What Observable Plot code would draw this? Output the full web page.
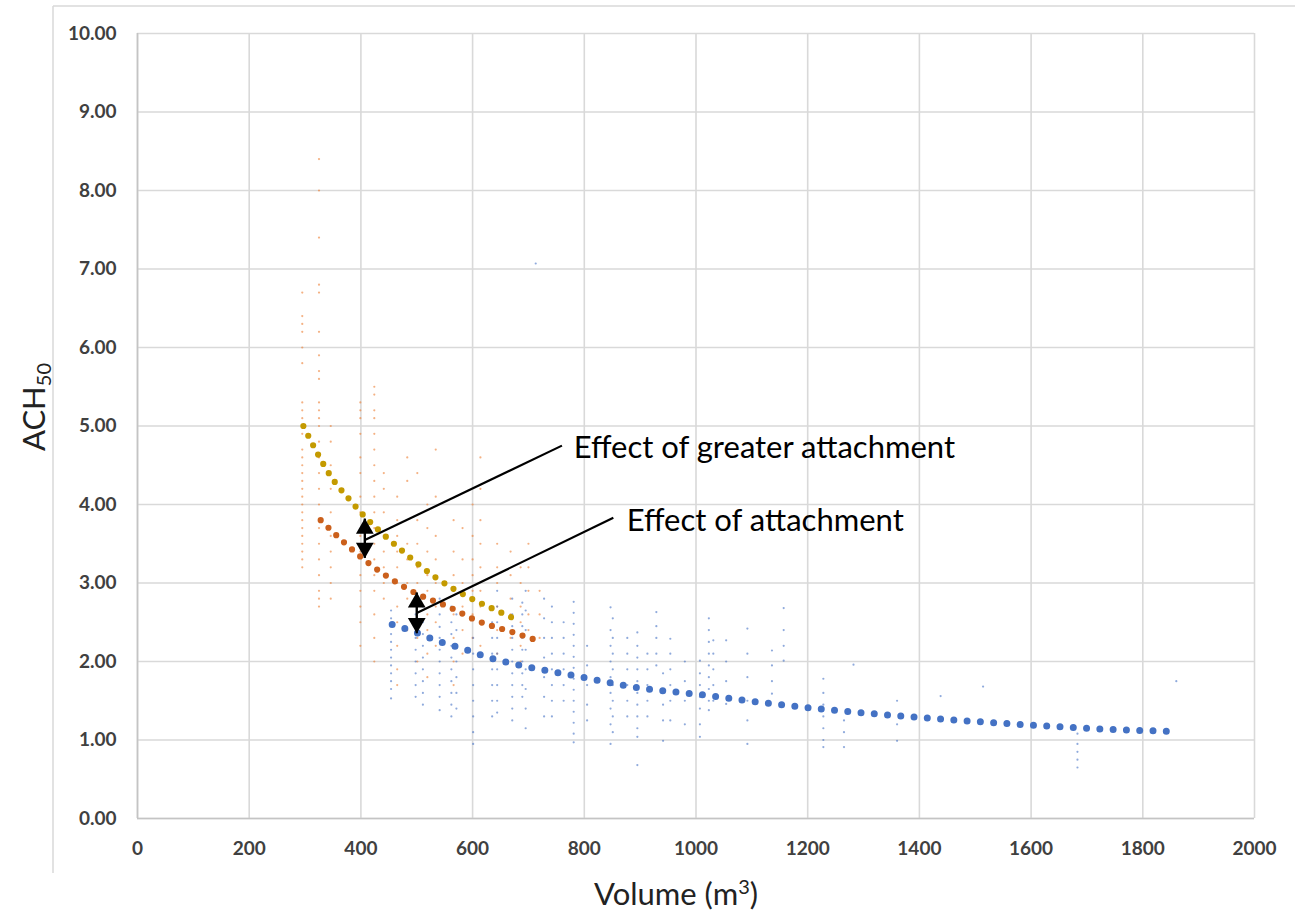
<!DOCTYPE html>
<html>
<head>
<meta charset="utf-8">
<script src="https://cdn.jsdelivr.net/npm/d3@7"></script>
<script src="https://cdn.jsdelivr.net/npm/@observablehq/plot@0.6"></script>
<style>
  html, body { margin: 0; padding: 0; background: #fff; }
  #chart svg { display: block; }
  #chart g[aria-label="x-axis tick label"] text,
  #chart g[aria-label="y-axis tick label"] text { font-weight: 700; }
</style>
</head>
<body>
<div id="chart"></div>
<script>
// ---- Axis ticks ----
const xTicks = [0, 200, 400, 600, 800, 1000, 1200, 1400, 1600, 1800, 2000];
const yTicks = [0, 1, 2, 3, 4, 5, 6, 7, 8, 9, 10];

// ---- Trend curves ----
const goldX = [297, 320, 345, 380, 405, 440, 474, 534, 598, 640, 670];
const goldY = [5.00, 4.68, 4.37, 4.06, 3.86, 3.62, 3.41, 3.07, 2.80, 2.66, 2.56];

const orangeX = [328, 371, 416, 450, 501, 556, 608, 673, 711];
const orangeY = [3.80, 3.51, 3.24, 3.07, 2.86, 2.70, 2.52, 2.37, 2.28];

const blueX = [456, 499, 538, 584, 629, 693, 782, 898, 1018, 1114, 1231, 1378, 1578, 1728, 1854];
const blueY = [2.47, 2.37, 2.26, 2.16, 2.05, 1.94, 1.82, 1.665, 1.57, 1.48, 1.39, 1.30, 1.20, 1.14, 1.11];

// ---- Measured points (columns: volume, ACH50 values) ----
const orangeCols = [
  [295, [6.7, 6.4, 6.3, 6.2, 6.0, 5.8, 5.3, 5.2, 5.1, 5.0, 4.9, 4.7, 4.6, 4.5, 4.4, 4.3, 4.2, 4.1, 4.0, 3.9, 3.8, 3.7, 3.6, 3.5, 3.4, 3.3, 3.2]],
  [325, [8.4, 8.0, 7.4, 6.8, 6.7, 6.2, 5.9, 5.7, 5.6, 5.3, 5.2, 5.1, 5.0, 4.8, 4.6, 4.4, 4.2, 4.0, 3.7, 3.5, 3.3, 3.1, 2.9, 2.8, 2.7]],
  [346, [5.0, 4.8, 4.5, 4.2, 3.9, 3.6, 3.4, 3.2, 3.0, 2.8]],
  [399, [5.3, 5.2, 5.1, 4.9, 4.6, 4.4, 4.1, 3.9, 3.6, 3.4, 3.1, 2.9, 2.7, 2.5, 2.2]],
  [424, [5.5, 5.4, 5.2, 5.1, 4.9, 4.7, 4.5, 4.3, 4.1, 3.9, 3.7, 3.5, 3.3, 3.1, 2.9, 2.6, 2.3, 2.0]],
  [441, [4.4, 4.2, 3.9, 3.6, 3.4, 3.2, 3.0, 2.8]],
  [465, [4.1, 3.8, 3.6, 3.4, 3.2, 3.0, 2.7, 2.5, 2.2, 1.9, 1.7]],
  [483, [4.6, 4.3, 3.5, 3.3, 3.0, 2.8, 2.4]],
  [501, [4.4, 3.8, 3.5, 3.2, 3.0, 2.7, 2.5, 2.3, 2.0]],
  [519, [4.0, 3.7, 3.4, 3.1, 2.9, 2.6, 2.4, 2.1, 1.8]],
  [534, [4.7, 4.1, 3.6, 3.3, 3.0, 2.7, 2.5, 2.2]],
  [566, [3.8, 3.4, 3.1, 2.9, 2.6, 2.3, 2.0, 1.7]],
  [582, [3.7, 3.3, 3.0, 2.7, 2.4, 2.1]],
  [600, [4.0, 3.6, 3.3, 3.1, 2.9, 2.6, 2.3]],
  [614, [4.6, 4.2, 3.8, 3.5, 3.2, 2.9, 2.7, 2.5, 2.2]],
  [644, [3.5, 3.2, 3.0, 2.7, 2.4, 2.1]],
  [668, [3.4, 3.1, 2.8, 2.6, 2.3]],
  [686, [3.2, 3.0, 2.7, 2.5, 2.2, 2.0]],
  [700, [3.5, 3.2, 2.9, 2.6, 2.4]],
  [720, [2.9, 2.6, 2.3]]
];

const blueCols = [
  [454, [2.65, 2.55, 2.45, 2.35, 2.25, 2.15, 2.05, 1.95, 1.85, 1.75, 1.65, 1.53]],
  [498, [2.6, 2.45, 2.3, 2.15, 2.0, 1.85, 1.7, 1.55]],
  [511, [2.7, 2.5, 2.35, 2.2, 2.05, 1.9, 1.75, 1.6, 1.45]],
  [541, [2.8, 2.6, 2.44, 2.3, 2.15, 2.0, 1.85, 1.7, 1.55, 1.38]],
  [562, [2.7, 2.5, 2.35, 2.2, 2.05, 1.9, 1.75, 1.6, 1.45, 1.3]],
  [571, [2.6, 2.4, 2.2, 2.0, 1.8, 1.6, 1.4]],
  [601, [2.3, 2.1, 1.9, 1.7, 1.5, 1.3, 1.1, 0.95]],
  [635, [2.5, 2.3, 2.1, 1.9, 1.7, 1.5, 1.3]],
  [644, [2.9, 2.7, 2.5, 2.3, 2.1, 1.9, 1.7, 1.5, 1.35]],
  [671, [2.8, 2.6, 2.45, 2.3, 2.15, 2.0, 1.85, 1.7, 1.55, 1.4, 1.25]],
  [689, [2.75, 2.6, 2.45, 2.3, 2.15, 2.0, 1.85, 1.7, 1.55]],
  [695, [2.9, 2.65, 2.4, 2.15, 1.9, 1.65, 1.4, 1.15]],
  [713, [7.07]],
  [728, [2.8, 2.55, 2.3, 2.05, 1.8, 1.55, 1.3]],
  [742, [2.7, 2.5, 2.3, 2.1, 1.9, 1.7, 1.5, 1.3]],
  [763, [2.5, 2.3, 2.1, 1.9, 1.7, 1.5]],
  [781, [2.76, 2.62, 2.48, 2.34, 2.2, 2.06, 1.92, 1.78, 1.64, 1.5, 1.36, 1.22, 1.08, 0.97]],
  [805, [2.2, 1.95, 1.7, 1.45, 1.25]],
  [847, [2.69, 2.4, 2.2, 2.0, 1.8, 1.6, 1.4, 1.2, 0.95]],
  [851, [2.55, 2.3, 2.1, 1.9, 1.7, 1.5, 1.3, 1.1]],
  [877, [2.3, 2.1, 1.9, 1.7, 1.5, 1.3]],
  [895, [2.37, 2.2, 2.05, 1.9, 1.75, 1.6, 1.45, 1.3, 1.15, 1.04, 0.68]],
  [913, [2.1, 1.9, 1.7, 1.5, 1.3]],
  [929, [2.63, 2.45, 2.3, 2.1, 1.95]],
  [941, [1.85, 1.65, 1.45, 1.25, 0.99]],
  [954, [2.29, 2.1, 1.9, 1.7, 1.5, 1.25]],
  [980, [2.0, 1.75, 1.5, 1.2]],
  [1007, [2.01, 1.85, 1.7, 1.55, 1.4, 1.2, 1.04]],
  [1023, [2.55, 2.4, 2.25, 2.1, 1.95, 1.8, 1.65, 1.5, 1.38]],
  [1031, [2.27, 2.1, 1.9, 1.7, 1.5]],
  [1054, [2.27, 2.0, 1.75, 1.46]],
  [1092, [2.42, 2.1, 1.8, 1.5, 1.25, 0.95]],
  [1136, [2.14, 1.95, 1.75, 1.59]],
  [1157, [2.68, 2.4, 2.2, 2.01]],
  [1228, [1.78, 1.6, 1.45, 1.3, 1.15, 1.0, 0.91]],
  [1265, [1.25, 1.1, 0.91]],
  [1282, [1.96]],
  [1360, [1.5, 1.2, 0.99]],
  [1438, [1.56]],
  [1514, [1.68]],
  [1683, [1.08, 0.95, 0.85, 0.75, 0.65]],
  [1860, [1.75]]
];

// ---- Annotations ----
const arrowX = [407, 500];
const arrowTop = [3.82, 2.88];
const arrowBottom = [3.32, 2.36];
const leaderX1 = [408, 501];
const leaderY1 = [3.55, 2.62];
const leaderX2 = [760, 852];
const leaderY2 = [4.75, 3.83];
const noteText = ["Effect of greater attachment", "Effect of attachment"];
const noteX = [781, 876];
const noteY = [4.72, 3.79];

// ---- Build tables ----
const toPts = (xs, ys) => xs.map((x, i) => ({x, y: ys[i]}));
const flat = cols => cols.flatMap(([x, ys]) => ys.map(y => ({x, y})));
const gold = toPts(goldX, goldY);
const orange = toPts(orangeX, orangeY);
const blue = toPts(blueX, blueY);
const orangePts = flat(orangeCols);
const bluePts = flat(blueCols);
const arrows = arrowX.map((x, i) => ({x, top: arrowTop[i], bottom: arrowBottom[i]}));
const leaders = leaderX1.map((x1, i) => ({x1, y1: leaderY1[i], x2: leaderX2[i], y2: leaderY2[i]}));
const notes = noteText.map((t, i) => ({t, x: noteX[i], y: noteY[i]}));

const font = "Lato, 'Open Sans', sans-serif";

const chart = Plot.plot({
  width: 1295,
  height: 912,
  marginLeft: 137,
  marginRight: 41,
  marginTop: 33,
  marginBottom: 94,
  style: {fontFamily: font, background: "#fff"},
  x: {domain: [0, 2000]},
  y: {domain: [0, 10]},
  marks: [
    Plot.gridX(xTicks, {stroke: "#d9d9d9", strokeOpacity: 1, strokeWidth: 1.6}),
    Plot.gridY(yTicks, {stroke: "#d9d9d9", strokeOpacity: 1, strokeWidth: 1.6}),
    Plot.ruleY([0], {stroke: "#c4c4c4", strokeWidth: 1.6}),
    Plot.ruleX([0], {stroke: "#c4c4c4", strokeWidth: 1.6}),
    Plot.axisX(xTicks, {tickSize: 0, tickPadding: 23, label: null, fontSize: 19, fill: "#404040", tickFormat: d => String(d)}),
    Plot.axisY(yTicks, {tickSize: 0, tickPadding: 21, label: null, fontSize: 19, fill: "#404040", tickFormat: d => d.toFixed(2)}),
    Plot.dot(orangePts, {x: "x", y: "y", r: 1.1, fill: "#ED7D31", fillOpacity: 0.6, stroke: null}),
    Plot.dot(bluePts, {x: "x", y: "y", r: 1.1, fill: "#4472C4", fillOpacity: 0.6, stroke: null}),
    Plot.line(gold, {x: "x", y: "y", stroke: "#C49A00", strokeWidth: 6.2, strokeDasharray: "0 10.7", strokeLinecap: "round", curve: "monotone-x"}),
    Plot.line(orange, {x: "x", y: "y", stroke: "#CB601C", strokeWidth: 6.2, strokeDasharray: "0 10.7", strokeLinecap: "round", curve: "monotone-x"}),
    Plot.line(blue, {x: "x", y: "y", stroke: "#4472C4", strokeWidth: 7, strokeDasharray: "0 13.3", strokeLinecap: "round", curve: "monotone-x"}),
    Plot.link(leaders, {x1: "x1", y1: "y1", x2: "x2", y2: "y2", stroke: "#000", strokeWidth: 2.2}),
    Plot.link(arrows, {x1: "x", y1: "top", x2: "x", y2: "bottom", stroke: "#000", strokeWidth: 2.4}),
    Plot.dot(arrows, {x: "x", y: "top", symbol: "triangle", r: 6.6, fill: "#000", stroke: null, dy: 10}),
    Plot.dot(arrows, {x: "x", y: "bottom", symbol: "triangle", r: 6.6, fill: "#000", stroke: null, dy: -10, rotate: 180}),
    Plot.text(notes, {x: "x", y: "y", text: "t", textAnchor: "start", lineAnchor: "middle", fontSize: 31, fill: "#000", fontFamily: font})
  ]
});

document.getElementById("chart").appendChild(chart);

// Outer chart frame and axis titles
const svg = d3.select(chart);
svg.append("line").attr("x1", 53).attr("x2", 53).attr("y1", 6).attr("y2", 873)
  .attr("stroke", "#d9d9d9").attr("stroke-width", 1.5);
svg.append("line").attr("x1", 53).attr("x2", 1295).attr("y1", 6).attr("y2", 6)
  .attr("stroke", "#d9d9d9").attr("stroke-width", 1.5);

const yt = svg.append("text")
  .attr("transform", "translate(45,407) rotate(-90)")
  .attr("text-anchor", "middle")
  .attr("font-family", font).attr("font-size", 31).attr("fill", "#222");
yt.append("tspan").text("ACH");
yt.append("tspan").attr("font-size", 20).attr("dy", "0.3em").text("50");

const xt = svg.append("text")
  .attr("x", 676).attr("y", 905)
  .attr("text-anchor", "middle")
  .attr("font-family", font).attr("font-size", 31).attr("fill", "#222");
xt.append("tspan").text("Volume (m");
xt.append("tspan").attr("font-size", 20).attr("dy", "-0.55em").text("3");
xt.append("tspan").attr("dy", "0.36em").text(")");
</script>
</body>
</html>
